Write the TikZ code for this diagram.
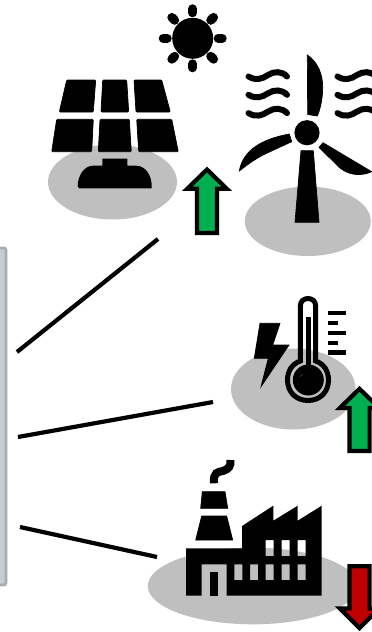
\documentclass[tikz,border=0pt]{standalone}
\definecolor{shade}{HTML}{BFBFBF}
\definecolor{upgreen}{HTML}{00B050}
\definecolor{downred}{HTML}{C00000}
\definecolor{panelfill}{HTML}{C3CFD3}
\definecolor{paneledge}{HTML}{A9ADAF}
\tikzset{
  ground/.style={fill=shade,draw=none},
  iconfill/.style={fill=black,draw=black,line width=.7pt},
  link/.style={draw=black,line width=4.2pt},
  trendarrow/.style={draw=black,line width=4.2pt,miter limit=10},
  breeze/.style={draw=black,line width=6pt,line cap=round},
}
\begin{document}
\begin{tikzpicture}[x=1pt,y=-1pt]
\clip (0,0) rectangle (372,632);
\fill[white] (0,0) rectangle (372,632);
% left panel
\draw[fill=panelfill,draw=paneledge,line width=2.6pt,rounded corners=2pt] (-20,248) rectangle (6,585);
% connectors
\coordinate (a1) at (17,352); \coordinate (b1) at (158,239);
\coordinate (a2) at (18,437); \coordinate (b2) at (213,402);
\coordinate (a3) at (20,527); \coordinate (b3) at (157,557);
\draw[link] (a1) -- (b1);
\draw[link] (a2) -- (b2);
\draw[link] (a3) -- (b3);
% sun
\fill[black] (192.7,38.3) circle (20.5pt);
\foreach \a in {0,45,...,315}
  \draw[black,line width=9pt,line cap=round] ([shift={(\a:25.5pt)}]192.7,38.3) -- ([shift={(\a:29.5pt)}]192.7,38.3);
% solar panel
\path[ground] (112.5,182) ellipse [x radius=64.5pt,y radius=37.5pt];
\begin{scope}[rounded corners=1pt]
\path[iconfill] (66.7,80) -- (95.7,80) -- (93.3,112) -- (59.3,112) -- cycle;
\path[iconfill] (102.7,80) -- (126.7,80) -- (128.7,112) -- (101,112) -- cycle;
\path[iconfill] (134,80) -- (161.7,80) -- (170.3,112) -- (136,112) -- cycle;
\path[iconfill] (56.7,119.3) -- (93.3,119.3) -- (91.7,151.7) -- (51.7,151.7) -- cycle;
\path[iconfill] (100,119.3) -- (129.3,119.3) -- (131.3,151.7) -- (98.3,151.7) -- cycle;
\path[iconfill] (136.7,119.3) -- (171.7,119.3) -- (178.3,151.7) -- (138.7,151.7) -- cycle;
\end{scope}
\fill[black] (102.3,158.7) -- (127.3,158.7) -- (127.3,165.7) -- (136,165.7)
  .. controls (146,165.7) and (151.7,176) .. (151.7,186) -- (151.7,188.3)
  -- (79,188.3) -- (77.7,186) .. controls (77.7,176) and (84,165.7) .. (93,165.7) -- (102.3,165.7) -- cycle;
% green arrow 1
\draw[trendarrow,fill=upgreen] (207,169.5) -- (226.7,188.7) -- (217,188.7) -- (217,233) -- (197,233) -- (197,188.7) -- (187.3,188.7) -- cycle;
% wind turbine
\path[ground] (307.8,221.3) ellipse [x radius=63pt,y radius=34.7pt];
\path[iconfill] (301,150.7) -- (313.3,150.7) -- (319,222.3) -- (295,222.3) -- cycle;
\fill[black] (307,132.7) circle (12.6pt);
\path[iconfill] (307.3,55) .. controls (318,62) and (323,75) .. (322.7,88) .. controls (322.5,100) and (320,110) .. (317.3,116) -- (307.7,114.5) -- cycle;
\path[iconfill] (239.3,171) .. controls (243,150) and (262,139) .. (289.3,134) -- (291.7,141.7) -- (265,154) .. controls (255,159) and (247,165) .. cycle;
\path[iconfill] (319,147.5) -- (323,142.7) -- (371.7,171.7) .. controls (362,176) and (350,176) .. (340,168) -- cycle;
\foreach \dy in {0,18.3,36.6} {
  \draw[breeze] (248.5,76.5+\dy) .. controls (256,81+\dy) and (262,79+\dy) .. (268,75+\dy) .. controls (274,71+\dy) and (282,71+\dy) .. (287,76.5+\dy);
  \draw[breeze] (337.5,76.5+\dy) .. controls (345,81+\dy) and (351,79+\dy) .. (357,75+\dy) .. controls (363,71+\dy) and (371,71+\dy) .. (376,76.5+\dy);
}
% temperature
\path[ground] (293.3,389) ellipse [x radius=62.3pt,y radius=40.5pt];
\path[iconfill] (260,323.3) -- (280,323.3) -- (272.7,345) -- (289,345) -- (261,386.7) -- (268.3,358.3) -- (254.3,358.3) -- cycle;
\draw[black,line width=5pt] (300.3,361) -- (300.3,306) .. controls (300.3,296) and (315.7,296) .. (315.7,306) -- (315.7,361)
  .. controls (324,364) and (328.5,371) .. (328.5,380) .. controls (328.5,392) and (320,400.5) .. (308,400.5)
  .. controls (296,400.5) and (287.5,392) .. (287.5,380) .. controls (287.5,371) and (292,364) .. (300.3,361) -- cycle;
\fill[black] (308.3,380) circle (15.5pt);
\fill[black] (305.5,317) rectangle (311,370);
\draw[shade,line width=1.3pt,line cap=round] (299,378) .. controls (299.5,375) and (301,373.5) .. (303.5,373);
\foreach \yy/\xx in {313.3/346,323.3/337.5,333.3/346,343.3/337.5,352.5/346}
  \draw[black,line width=4.2pt] (328.3,\yy) -- (\xx,\yy);
% green arrow 2
\draw[trendarrow,fill=upgreen] (359.5,388.8) -- (379.2,408) -- (369.6,408) -- (369.6,451) -- (349.4,451) -- (349.4,408) -- (339.8,408) -- cycle;
% factory
\path[ground] (252.8,586) ellipse [x radius=105pt,y radius=38.3pt];
\fill[black,even odd rule] (186,548.3) -- (242,548.3) -- (242,526) -- (273.3,505.7) -- (273.3,520.7) -- (297.7,505.7) -- (297.7,520.7) -- (321.7,505.7) -- (321.7,595.7) -- (226.7,595.7) -- (226.7,564.3) -- (201.7,564.3) -- (201.7,595.7) -- (186,595.7) -- cycle
  (234.3,564.3) rectangle (242.3,580)
  (250,564.3) rectangle (258,580)
  (265.7,564.3) rectangle (273.7,580)
  (281.7,564.3) rectangle (289.7,580)
  (297.7,564.3) rectangle (305.7,580)
  (265.7,540) rectangle (273.7,556)
  (281.7,540) rectangle (289.7,556)
  (297.7,540) rectangle (305.7,556);
\fill[black] (210,572.3) rectangle (218.3,595.7);
\path[iconfill] (201.7,516) -- (226.7,516) -- (232.7,540) -- (195.7,540) -- cycle;
\path[iconfill] (202.3,491.7) -- (225,491.7) -- (227.7,508.3) -- (200.7,508.3) -- cycle;
\draw[black,line width=8pt] (214,483.3) .. controls (213,472) and (218,472) .. (223,471) .. controls (229,469) and (231,466) .. (230.5,460);
% red arrow
\draw[trendarrow,fill=downred] (359.5,628.2) -- (379.2,608.5) -- (369.6,608.5) -- (369.6,566.3) -- (349.4,566.3) -- (349.4,608.5) -- (339.8,608.5) -- cycle;
\end{tikzpicture}
\end{document}
